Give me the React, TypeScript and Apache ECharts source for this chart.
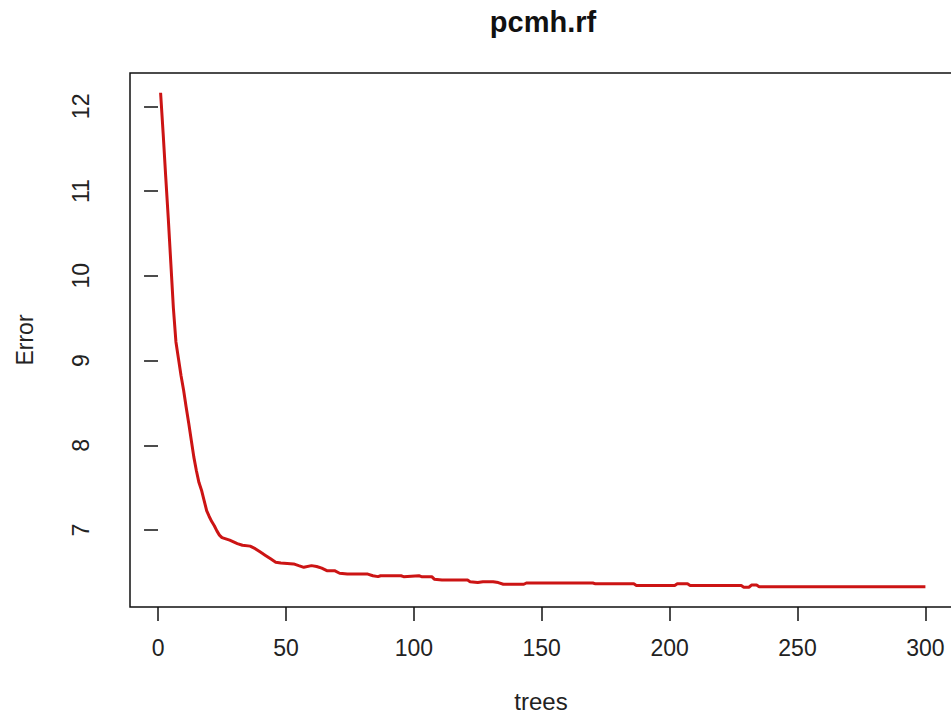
import React, { useEffect, useRef } from "react";
import * as echarts from "echarts";

const trees = [
  1, 2, 3, 4, 5, 6, 7, 8, 9, 10, 11, 12, 13, 14, 15, 16, 17, 18, 19, 20, 21, 22, 23, 24, 25,
  28, 31, 33, 36, 38, 40, 42, 44, 46, 48, 53, 55, 57, 60, 62, 64, 66, 69, 71, 74, 82, 84, 86, 87,
  95, 96, 102, 103, 107, 108, 111, 121, 122, 125, 127, 131, 133, 135, 143, 144, 152, 160, 170,
  171, 186, 187, 202, 203, 207, 208, 228, 229, 231, 232, 234, 235, 300,
];
const errors = [
  12.16, 11.68, 11.17, 10.68, 10.15, 9.62, 9.22, 9.02, 8.82, 8.65, 8.45, 8.26, 8.06, 7.86, 7.7,
  7.56, 7.47, 7.35, 7.23, 7.16, 7.1, 7.05, 6.99, 6.94, 6.91,
  6.88, 6.84, 6.82, 6.81, 6.78, 6.74, 6.7, 6.66, 6.62, 6.61, 6.6, 6.58, 6.56, 6.58, 6.57, 6.55,
  6.52, 6.52, 6.49, 6.48, 6.48, 6.46, 6.45, 6.46,
  6.46, 6.45, 6.46, 6.45, 6.45, 6.42, 6.41, 6.41, 6.39, 6.38, 6.39, 6.39, 6.38, 6.36, 6.36,
  6.375, 6.375, 6.375, 6.375,
  6.365, 6.365, 6.345, 6.345, 6.365, 6.365, 6.345, 6.345, 6.325, 6.325, 6.35, 6.35, 6.33, 6.33,
];
const xTicks = [0, 50, 100, 150, 200, 250, 300];
const yTicks = [7, 8, 9, 10, 11, 12];
const titleText = "pcmh.rf";
const xName = "trees";
const yName = "Error";

const FONT = "'Liberation Sans', Arial, Helvetica, sans-serif";
const TXT = "#222";

export default function App() {
  const ref = useRef<HTMLDivElement>(null);
  useEffect(() => {
    if (!ref.current) return;
    const chart = echarts.init(ref.current, undefined, { renderer: "svg" });
    const xMinD = Math.min(...trees);
    const xMaxD = Math.max(...trees);
    const yMinD = Math.min(...errors);
    const yMaxD = Math.max(...errors);
    const xr = (xMaxD - xMinD) * 0.04;
    const yr = (yMaxD - yMinD) * 0.04;
    chart.setOption({
      animation: false,
      backgroundColor: "#ffffff",
      grid: {
        left: 130,
        top: 73,
        width: 826,
        height: 534,
        show: true,
        borderColor: "#111",
        borderWidth: 1.5,
        backgroundColor: "transparent",
        containLabel: false,
        outerBoundsMode: "none",
      },
      xAxis: {
        type: "value",
        min: xMinD - xr,
        max: xMaxD + xr,
        axisLine: { show: false },
        splitLine: { show: false },
        axisTick: {
          show: true,
          length: 14,
          customValues: xTicks,
          lineStyle: { color: "#111", width: 1.5 },
        },
        axisLabel: {
          customValues: xTicks,
          fontFamily: FONT,
          fontSize: 23,
          color: TXT,
          margin: 29,
        },
      },
      yAxis: {
        type: "value",
        min: yMinD - yr,
        max: yMaxD + yr,
        axisLine: { show: false },
        splitLine: { show: false },
        axisTick: {
          show: true,
          length: 14,
          customValues: yTicks,
          lineStyle: { color: "#111", width: 1.5 },
        },
        axisLabel: {
          customValues: yTicks,
          rotate: 90,
          fontFamily: FONT,
          fontSize: 23,
          color: TXT,
          margin: 38,
        },
      },
      graphic: [
        {
          type: "text",
          x: 543,
          y: 22,
          style: {
            text: titleText,
            fontFamily: FONT,
            fontSize: 29,
            fontWeight: "bold",
            fill: "#111",
            textAlign: "center",
            textVerticalAlign: "middle",
          },
        },
        {
          type: "text",
          x: 541,
          y: 701,
          style: {
            text: xName,
            fontFamily: FONT,
            fontSize: 24,
            fill: TXT,
            textAlign: "center",
            textVerticalAlign: "middle",
          },
        },
        {
          type: "text",
          x: 25,
          y: 340,
          rotation: Math.PI / 2,
          style: {
            text: yName,
            fontFamily: FONT,
            fontSize: 23,
            fill: TXT,
            textAlign: "center",
            textVerticalAlign: "middle",
          },
        },
      ],
      series: [
        {
          type: "line",
          data: trees.map((t, i) => [t, errors[i]]),
          showSymbol: false,
          symbol: "none",
          lineStyle: { color: "#cc1414", width: 3 },
          clip: true,
        },
      ],
    });
    return () => chart.dispose();
  }, []);
  return (
    <div
      ref={ref}
      style={{ position: "absolute", left: 0, top: 0, width: 951, height: 714, background: "#fff" }}
    />
  );
}
